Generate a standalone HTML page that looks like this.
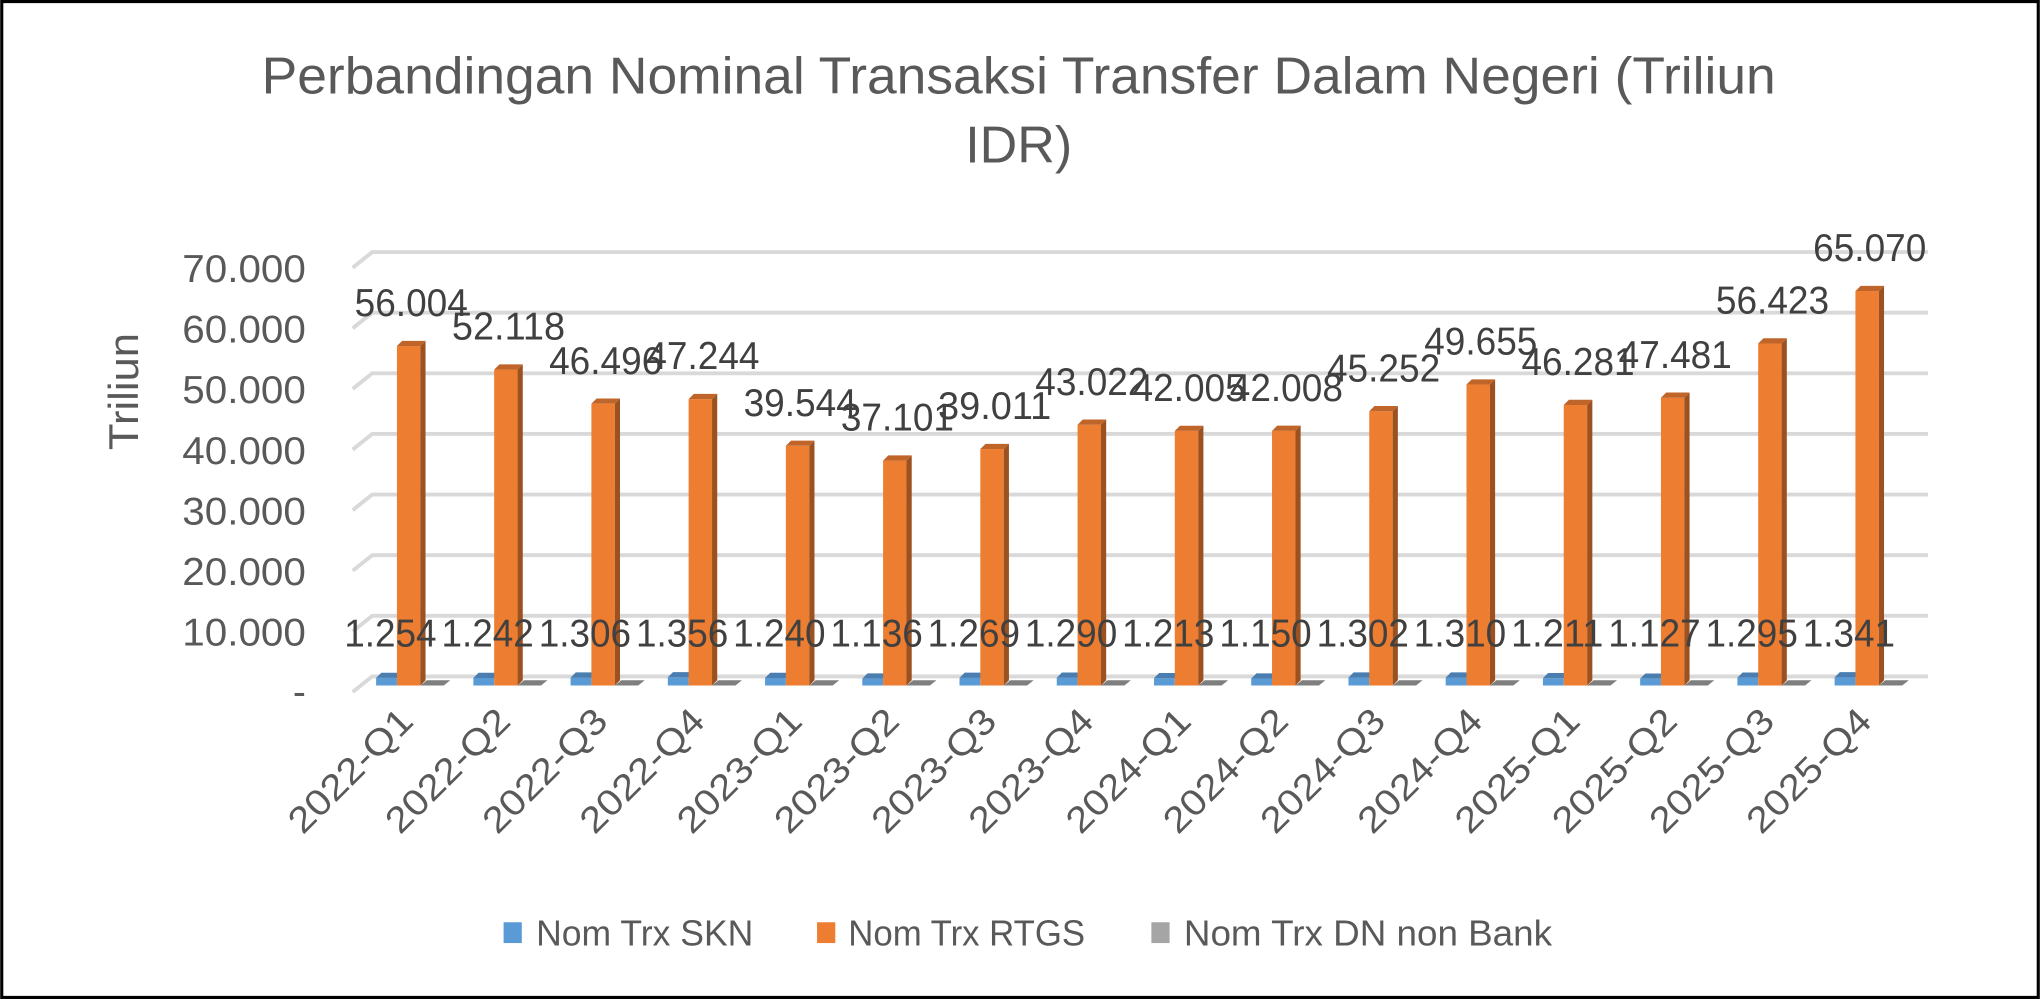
<!DOCTYPE html>
<html><head><meta charset="utf-8"><style>
html,body{margin:0;padding:0;background:#fff;}
svg{display:block;}
</style></head><body>
<svg width="2040" height="999" viewBox="0 0 1568 768" xmlns="http://www.w3.org/2000/svg" font-family="'Liberation Sans', sans-serif">
<rect x="0" y="0" width="1568" height="768" fill="#fff"/>
<rect x="1.2" y="1.2" width="1565.6" height="765.6" fill="none" stroke="#000" stroke-width="2.4"/>
<text x="783" y="72" text-anchor="middle" font-size="40" fill="#595959" textLength="1164" lengthAdjust="spacingAndGlyphs">Perbandingan Nominal Transaksi Transfer Dalam Negeri (Triliun</text>
<text x="783" y="125" text-anchor="middle" font-size="40" fill="#595959">IDR)</text>
<text transform="translate(106,301) rotate(-90)" text-anchor="middle" font-size="32" fill="#595959" textLength="90" lengthAdjust="spacingAndGlyphs">Triliun</text>
<g id="grid" stroke="#D9D9D9" stroke-width="3" fill="none"></g>
<g id="ylab" font-size="30" fill="#595959" text-anchor="end"></g>
<g id="bars"></g>
<g id="labs" font-size="30" fill="#404040" text-anchor="middle"></g>
<g id="xlab" font-size="28" fill="#595959" text-anchor="end"></g>
<g font-size="28" fill="#595959">
<rect x="387" y="709" width="14" height="16" fill="#5B9BD5"/>
<text x="412" y="727" textLength="167" lengthAdjust="spacingAndGlyphs">Nom Trx SKN</text>
<rect x="628" y="709" width="14" height="16" fill="#ED7D31"/>
<text x="652" y="727" textLength="182" lengthAdjust="spacingAndGlyphs">Nom Trx RTGS</text>
<rect x="885" y="709" width="14" height="16" fill="#A5A5A5"/>
<text x="910" y="727" textLength="283" lengthAdjust="spacingAndGlyphs">Nom Trx DN non Bank</text>
</g>
<script>
var NS="http://www.w3.org/2000/svg";
function el(p,t,a,txt){var e=document.createElementNS(NS,t);for(var k in a)e.setAttribute(k,a[k]);if(txt!==undefined)e.textContent=txt;document.getElementById(p).appendChild(e);return e;}
for(var i=0;i<=7;i++){var y=520-i*46.6;
el('grid','polyline',{points:(271)+','+(y+12)+' '+286+','+y+' 1482,'+y});
if(i==0) el('ylab','text',{x:235,y:y+22},'-');
else el('ylab','text',{x:235,y:y+23,textLength:95,lengthAdjust:'spacingAndGlyphs'},(i*10)+'.000');}
var rt=[56.004,52.118,46.496,47.244,39.544,37.101,39.011,43.022,42.005,42.008,45.252,49.655,46.281,47.481,56.423,65.070];
var sk=[1.254,1.242,1.306,1.356,1.240,1.136,1.269,1.290,1.213,1.150,1.302,1.310,1.211,1.127,1.295,1.341];
var cats=[];for(var yy=2022;yy<=2025;yy++)for(var q=1;q<=4;q++)cats.push(yy+'-Q'+q);
var base=527,k=4.66;
for(var i=0;i<16;i++){
 var x=305+74.75*i;
 el('bars','polygon',{points:(x+18)+','+base+' '+(x+36)+','+base+' '+(x+41)+','+(base-4)+' '+(x+23)+','+(base-4),fill:'#7F7F7F'});
 var bt=base-sk[i]*k;
 el('bars','rect',{x:x-16,y:bt,width:16,height:base-bt,fill:'#5B9BD5'});
 el('bars','polygon',{points:(x-16)+','+bt+' '+x+','+bt+' '+(x+4)+','+(bt-4)+' '+(x-12)+','+(bt-4),fill:'#4A7EB0'});
 var t=base-rt[i]*k;
 el('bars','rect',{x:x,y:t,width:18,height:base-t,fill:'#ED7D31'});
 el('bars','polygon',{points:(x+18)+','+t+' '+(x+22)+','+(t-4)+' '+(x+22)+','+(base-4)+' '+(x+18)+','+base,fill:'#9C5220'});
 el('bars','polygon',{points:x+','+t+' '+(x+18)+','+t+' '+(x+22)+','+(t-4)+' '+(x+4)+','+(t-4),fill:'#C0652A'});
 el('labs','text',{x:x+11,y:t-23,textLength:87,lengthAdjust:'spacingAndGlyphs'},rt[i].toFixed(3));
 el('labs','text',{x:x-5,y:497,textLength:71,lengthAdjust:'spacingAndGlyphs'},sk[i].toFixed(3));
 el('xlab','text',{transform:'translate('+(x+14)+',556) rotate(-45)',textLength:122,lengthAdjust:'spacingAndGlyphs'},cats[i]);
}
</script>
</svg>
</body></html>
